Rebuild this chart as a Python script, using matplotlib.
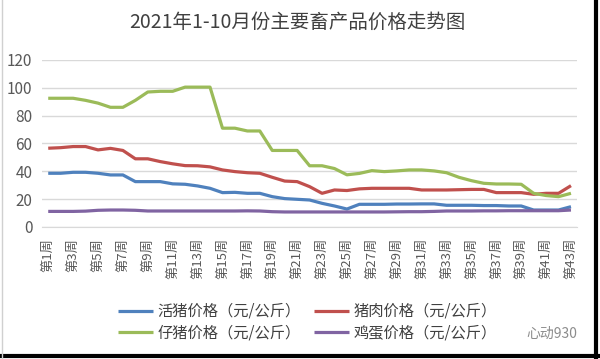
import matplotlib
matplotlib.use("Agg")
import matplotlib.pyplot as plt
from matplotlib.lines import Line2D

plt.rcParams['font.family'] = ['Noto Sans CJK SC', 'DejaVu Sans']

weeks = list(range(1, 44))
week_labels = [f"第{w}周" for w in weeks]

live_hog = [38.6, 38.6, 39.3, 39.3, 38.6, 37.4, 37.4, 32.6, 32.6, 32.6,
            31.0, 30.7, 29.5, 27.8, 24.7, 24.9, 24.2, 24.2, 21.8, 20.4,
            19.9, 19.4, 17.0, 15.1, 12.9, 16.3, 16.3, 16.3, 16.5, 16.5,
            16.6, 16.6, 15.6, 15.6, 15.6, 15.4, 15.4, 15.1, 15.1, 12.2,
            12.2, 12.2, 14.6]
pork = [56.6, 57.0, 57.8, 57.8, 55.4, 56.5, 55.0, 49.0, 49.0, 47.0,
        45.4, 44.1, 44.0, 43.2, 41.0, 39.8, 39.0, 38.6, 35.7, 33.0,
        32.6, 29.0, 24.2, 26.6, 26.2, 27.4, 27.8, 27.8, 27.8, 27.8,
        26.6, 26.6, 26.6, 26.8, 27.0, 27.0, 24.7, 24.7, 24.7, 23.5,
        24.2, 24.2, 29.7]
piglet = [92.5, 92.5, 92.5, 91.0, 89.0, 86.0, 86.0, 91.0, 97.0, 97.5,
          97.5, 100.5, 100.5, 100.5, 71.0, 71.0, 69.0, 69.0, 55.0, 55.0,
          55.0, 44.0, 44.0, 42.0, 37.5, 38.5, 40.5, 39.8, 40.3, 41.0,
          41.0, 40.3, 39.0, 35.7, 33.3, 31.4, 30.9, 30.9, 30.7, 24.2,
          22.6, 21.8, 24.2]
egg = [11.2, 11.2, 11.2, 11.4, 12.0, 12.2, 12.2, 12.0, 11.5, 11.5,
       11.5, 11.5, 11.5, 11.5, 11.5, 11.5, 11.6, 11.5, 11.0, 10.8,
       10.8, 10.8, 10.8, 10.8, 10.8, 10.8, 10.8, 10.8, 10.9, 11.0,
       11.0, 11.2, 11.5, 11.5, 11.5, 11.6, 11.6, 11.7, 11.7, 11.7,
       11.7, 11.7, 12.2]

series = [
    ("活猪价格（元/公斤）", live_hog, "#4F81BD"),
    ("仔猪价格（元/公斤）", piglet, "#9BBB59"),
    ("猪肉价格（元/公斤）", pork, "#C0504D"),
    ("鸡蛋价格（元/公斤）", egg, "#8064A2"),
]
draw_order = [0, 2, 1, 3]

fig = plt.figure(figsize=(6.0, 3.59), dpi=100)
ax = fig.add_axes([0.070, 0.3677, 0.892, 0.4652])

lines = {}
for i in draw_order:
    name, vals, col = series[i]
    ln, = ax.plot(weeks, vals, color=col, lw=2.3, solid_joinstyle='round',
                  solid_capstyle='butt', label=name)
    lines[i] = ln

ax.set_ylim(0, 120)
ax.set_yticks(range(0, 121, 20))
ax.set_xlim(0.5, 43.5)
ax.set_xticks(weeks[::2])
ax.set_xticklabels(week_labels[::2], rotation=90, fontsize=9.5, color="#595959")
ax.tick_params(axis='x', length=0, pad=8)
ax.tick_params(axis='y', length=0, pad=7, labelsize=11, labelcolor="#595959")
ax.grid(axis='y', color="#D9D9D9", lw=1)
ax.set_axisbelow(True)
for s in ['top', 'right', 'left']:
    ax.spines[s].set_visible(False)
ax.spines['bottom'].set_color("#D9D9D9")

fig.text(0.495, 1 - 22 / 359, "2021年1-10月份主要畜产品价格走势图", ha='center', va='center',
         fontsize=14, color="#404040")

handles = [lines[i] for i in range(4)]
labels = [series[i][0] for i in range(4)]
fig.legend(handles, labels, ncol=2, loc='upper left',
           bbox_to_anchor=(0.196, 1 - 303 / 359), frameon=False,
           fontsize=11, handlelength=2.3, handletextpad=0.3,
           columnspacing=0.9, labelspacing=0.3, borderpad=0, borderaxespad=0,
           labelcolor="#404040")

fig.text(577 / 600, 1 - 334 / 359, "心动930", ha='right', va='center',
         fontsize=10, color="#8C8C8C")

# image frame edges
fig.add_artist(Line2D([596 / 600, 596 / 600], [0, 1], transform=fig.transFigure,
                      color="black", lw=3))
fig.add_artist(Line2D([0, 1], [3 / 359, 3 / 359], transform=fig.transFigure,
                      color="black", lw=3))
fig.add_artist(Line2D([2 / 600, 2 / 600], [0, 1], transform=fig.transFigure,
                      color="#D0D0D0", lw=1))

fig.savefig("out.png", dpi=100)
